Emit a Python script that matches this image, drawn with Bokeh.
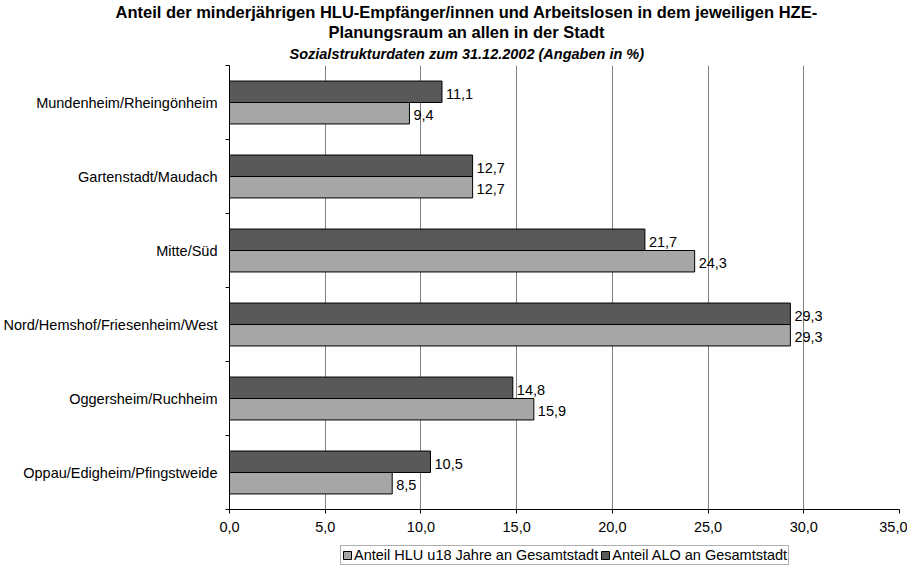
from bokeh.plotting import figure
from bokeh.layouts import column
from bokeh.models import ColumnDataSource, Range1d, FixedTicker, Title, Legend, LegendItem
from bokeh.embed import file_html
from bokeh.resources import INLINE
from bokeh.core.properties import value

# ---------------- data ----------------
categories = [
    "Mundenheim/Rheingönheim",
    "Gartenstadt/Maudach",
    "Mitte/Süd",
    "Nord/Hemshof/Friesenheim/West",
    "Oggersheim/Ruchheim",
    "Oppau/Edigheim/Pfingstweide",
]
alo_values = [11.1, 12.7, 21.7, 29.3, 14.8, 10.5]
hlu_values = [9.4, 12.7, 24.3, 29.3, 15.9, 8.5]
series_names = ["Anteil HLU u18 Jahre an Gesamtstadt", "Anteil ALO an Gesamtstadt"]
x_ticks = [0, 5, 10, 15, 20, 25, 30, 35]
x_tick_labels = ["0,0", "5,0", "10,0", "15,0", "20,0", "25,0", "30,0", "35,0"]
title_lines = [
    "Anteil der minderjährigen HLU-Empfänger/innen und Arbeitslosen in dem jeweiligen HZE-",
    "Planungsraum an allen in der Stadt",
]
subtitle = "Sozialstrukturdaten zum 31.12.2002 (Angaben in %)"

# ---------------- styles ----------------
FONT = "Liberation Sans"
DARK = "#595959"
LIGHT = "#a6a6a6"
FS = "14.5px"
BAR_H = 0.29
W = 907
BL, BR = 225, 8

n = len(categories)
centers = [n - i - 0.5 for i in range(n)]
fmt = lambda v: f"{v:.1f}".replace(".", ",")

src_alo = ColumnDataSource(dict(
    y=[c + BAR_H / 2 for c in centers], v=alo_values, t=[fmt(v) for v in alo_values]))
src_hlu = ColumnDataSource(dict(
    y=[c - BAR_H / 2 for c in centers], v=hlu_values, t=[fmt(v) for v in hlu_values]))

# ---------------- main figure ----------------
p = figure(width=W, height=543, output_backend="svg", toolbar_location=None,
           x_range=Range1d(0, 35), y_range=Range1d(0, n),
           min_border_left=BL, min_border_right=BR, min_border_top=63, min_border_bottom=34)
p.outline_line_color = None

r_alo = p.hbar(y="y", right="v", left=0, height=BAR_H, source=src_alo,
               fill_color=DARK, line_color="black", line_width=1)
r_hlu = p.hbar(y="y", right="v", left=0, height=BAR_H, source=src_hlu,
               fill_color=LIGHT, line_color="black", line_width=1)

for src in (src_alo, src_hlu):
    p.text(x="v", y="y", text="t", source=src, x_offset=4, y_offset=2,
           text_font=value(FONT), text_font_size=FS, text_align="left",
           text_baseline="middle", text_color="black")

xa = p.xaxis[0]
xa.ticker = FixedTicker(ticks=x_ticks)
xa.major_label_overrides = {t: l for t, l in zip(x_ticks, x_tick_labels)}
xa.axis_line_color = "black"
xa.major_tick_line_color = "black"
xa.major_tick_in = 0
xa.major_tick_out = 4
xa.minor_tick_line_color = None
xa.major_label_standoff = 8
xa.major_label_text_font = FONT
xa.major_label_text_font_size = FS
xa.major_label_text_color = "black"

ya = p.yaxis[0]
ya.ticker = FixedTicker(ticks=centers, minor_ticks=list(range(n + 1)))
ya.major_label_overrides = {c: cat for c, cat in zip(centers, categories)}
ya.axis_line_color = "black"
ya.major_tick_line_color = None
ya.major_tick_in = 0
ya.major_tick_out = 0
ya.minor_tick_line_color = "black"
ya.minor_tick_in = 0
ya.minor_tick_out = 4
ya.major_label_standoff = 8
ya.major_label_text_font = FONT
ya.major_label_text_font_size = FS
ya.major_label_text_color = "black"

p.xgrid.grid_line_color = "#808080"
p.xgrid.grid_line_width = 1
p.ygrid.grid_line_color = None

# titles (first added sits closest to the plot); offsets from the frame's left edge
p.add_layout(Title(text=subtitle, align="left", offset=60, standoff=7,
                   text_font=FONT, text_font_size=FS, text_font_style="bold italic",
                   text_color="black"), "above")
p.add_layout(Title(text=title_lines[1], align="left", offset=99, standoff=0,
                   text_font=FONT, text_font_size="16.5px", text_font_style="bold",
                   text_color="black"), "above")
p.add_layout(Title(text=title_lines[0], align="left", offset=-114, standoff=0,
                   text_font=FONT, text_font_size="16.5px", text_font_style="bold",
                   text_color="black"), "above")

# ---------------- legend strip (its bars lie outside its visible range) ----------------
lf = figure(width=W, height=22, output_backend="svg", toolbar_location=None,
            x_range=Range1d(0, 35), y_range=Range1d(100, 101),
            x_axis_location=None, y_axis_location=None,
            min_border_left=BL, min_border_right=BR, min_border_top=0, min_border_bottom=0)
lf.outline_line_color = None
lf.grid.visible = False
lg_hlu = lf.hbar(y="y", right="v", left=0, height=BAR_H, source=src_hlu,
                 fill_color=LIGHT, line_color="black")
lg_alo = lf.hbar(y="y", right="v", left=0, height=BAR_H, source=src_alo,
                 fill_color=DARK, line_color="black")
legend = Legend(items=[LegendItem(label=series_names[0], renderers=[lg_hlu]),
                       LegendItem(label=series_names[1], renderers=[lg_alo])],
                orientation="horizontal", location=(111, 0),
                padding=1, spacing=2, glyph_width=10, glyph_height=10, label_standoff=2,
                label_height=14, label_text_font=FONT, label_text_font_size=FS,
                label_text_color="black", border_line_color="#606060", border_line_width=1,
                background_fill_color="white", background_fill_alpha=1)
lf.add_layout(legend, "center")

layout = column(p, lf, spacing=0)
open("out.html", "w").write(file_html(layout, INLINE))
